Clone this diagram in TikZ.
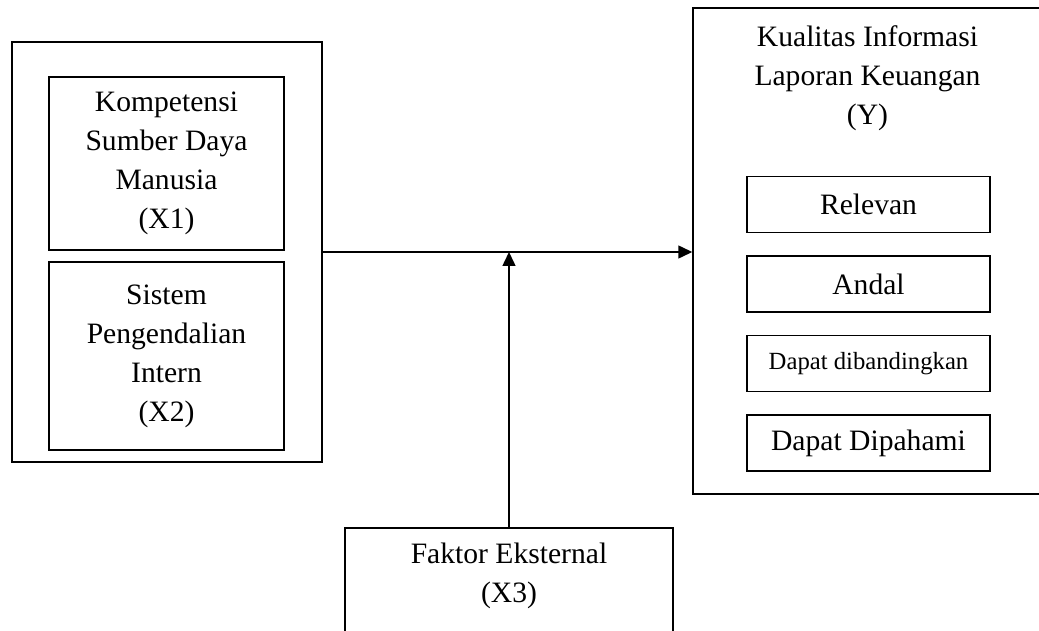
\documentclass[tikz,border=0pt]{standalone}
\usepackage{fontspec}
\setmainfont{Liberation Serif}
\usetikzlibrary{positioning}
\usetikzlibrary{arrows.meta}

\begin{document}
\begin{tikzpicture}[
    x=1pt, y=1pt,
    font=\fontsize{29.6}{39}\selectfont,
    varbox/.style={draw, line width=1.5pt, align=center, inner sep=0pt},
    indbox/.style={varbox, minimum width=243pt, minimum height=56pt},
    arr/.style={-{Triangle[length=14pt,width=13pt]}, line width=1.5pt},
    node distance=22pt
    ]
    \path[use as bounding box] (0,0) rectangle (1039,-631);
    \clip (0,0) rectangle (1039,-631);

    %Nodes
    \node[varbox, minimum width=310pt, minimum height=420pt] (L) at (167,-252) {};
    \node[varbox, minimum width=235pt, minimum height=173pt] (X1) at (166.5,-163.5) {Kompetensi\\Sumber Daya\\Manusia\\(X1)};
    \node[varbox, minimum width=235pt, minimum height=188pt] (X2) at (166.5,-356) {Sistem\\Pengendalian\\Intern\\(X2)};

    \node[varbox, minimum width=349pt, minimum height=486pt] (Y) at (867.5,-251) {};
    \node[align=center, inner sep=0pt, anchor=north] (Ytitle) at (867.5,-25) {Kualitas Informasi\\Laporan Keuangan\\(Y)};
    \node[indbox] (Y1) at (868.5,-204.5) {Relevan};
    \node[indbox] (Y2) [below=of Y1] {Andal};
    \node[indbox, font=\fontsize{24.7}{30}\selectfont] (Y3) [below=of Y2] {Dapat dibandingkan};
    \node[indbox] (Y4) [below=of Y3] {Dapat Dipahami};

    \node[varbox, minimum width=328pt, minimum height=130pt] (X3) at (509,-593) {};
    \node[align=center, inner sep=0pt, anchor=north] (X3text) at (509,-543) {Faktor Eksternal\\(X3)};

    %Lines
    \draw[arr] (L.east) -- (L.east -| Y.west);
    \draw[arr] (X3.north) -- (X3.north |- L.east);

\end{tikzpicture}
\end{document}
